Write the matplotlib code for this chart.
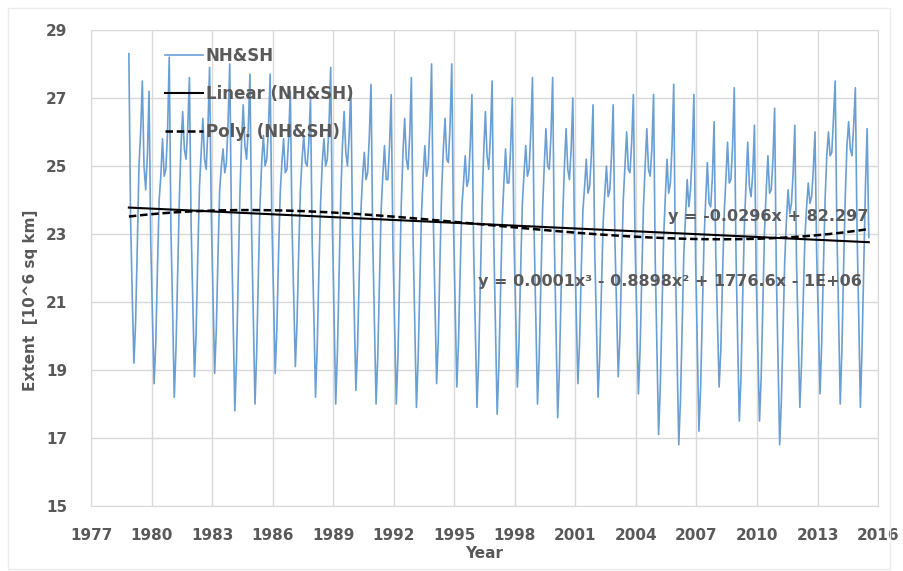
import matplotlib
matplotlib.use("Agg")
import matplotlib.pyplot as plt
from matplotlib.patches import Rectangle
import numpy as np

# global (NH + SH) sea ice extent, 10^6 sq km
# first two points are Nov/Dec 1978, then Jan..Dec per year, 2015 ends in July
start_1978 = [28.3, 23.5]
years = list(range(1979, 2016))
monthly = [
    [21.2, 19.2, 20.4, 22.6, 25.0, 26.0, 27.5, 25.0, 24.3, 25.3, 27.2, 22.8],  # 1979
    [20.6, 18.6, 19.8, 22.0, 24.0, 24.7, 25.8, 24.7, 24.9, 26.0, 28.2, 23.2],  # 1980
    [20.8, 18.2, 19.6, 21.8, 24.0, 25.6, 26.6, 25.5, 25.2, 26.1, 27.6, 23.3],  # 1981
    [21.1, 18.8, 20.1, 22.4, 24.4, 25.4, 26.4, 25.2, 24.9, 26.1, 27.9, 23.6],  # 1982
    [21.2, 18.9, 20.2, 22.4, 24.3, 25.0, 25.5, 24.8, 25.1, 26.3, 28.0, 23.2],  # 1983
    [20.5, 17.8, 19.3, 21.7, 24.1, 25.7, 26.8, 25.6, 25.2, 26.1, 27.7, 23.1],  # 1984
    [20.6, 18.0, 19.5, 21.8, 23.9, 25.1, 25.9, 25.0, 25.2, 26.1, 27.7, 23.5],  # 1985
    [21.2, 18.9, 20.2, 22.4, 24.2, 25.1, 25.8, 24.8, 24.9, 25.8, 27.2, 23.3],  # 1986
    [21.2, 19.1, 20.4, 22.5, 24.3, 25.2, 25.9, 25.1, 25.0, 25.7, 27.0, 22.8],  # 1987
    [20.6, 18.2, 19.7, 21.9, 23.9, 25.1, 25.8, 25.0, 25.2, 26.2, 27.9, 23.3],  # 1988
    [20.7, 18.0, 19.5, 21.8, 24.1, 25.6, 26.6, 25.4, 25.0, 25.9, 27.3, 23.1],  # 1989
    [20.7, 18.4, 19.7, 21.8, 23.7, 24.7, 25.4, 24.6, 24.8, 25.9, 27.4, 22.9],  # 1990
    [20.4, 18.0, 19.4, 21.6, 23.7, 24.7, 25.6, 24.6, 24.6, 25.6, 27.1, 22.7],  # 1991
    [20.3, 18.0, 19.4, 21.7, 23.9, 25.4, 26.4, 25.2, 24.9, 25.9, 27.6, 22.9],  # 1992
    [20.4, 17.9, 19.3, 21.5, 23.6, 24.7, 25.6, 24.7, 25.0, 26.2, 28.0, 23.5],  # 1993
    [21.0, 18.6, 19.9, 22.2, 24.3, 25.5, 26.4, 25.2, 25.1, 26.2, 28.0, 23.4],  # 1994
    [21.0, 18.5, 19.8, 21.9, 23.8, 24.5, 25.3, 24.4, 24.6, 25.6, 27.1, 22.6],  # 1995
    [20.2, 17.9, 19.3, 21.6, 23.8, 25.4, 26.6, 25.3, 24.9, 25.9, 27.5, 22.8],  # 1996
    [20.2, 17.7, 19.1, 21.3, 23.4, 24.5, 25.5, 24.5, 24.5, 25.5, 27.0, 22.9],  # 1997
    [20.7, 18.5, 19.8, 22.0, 23.9, 24.8, 25.6, 24.7, 24.9, 26.0, 27.6, 23.0],  # 1998
    [20.5, 18.0, 19.4, 21.6, 23.7, 25.0, 26.1, 25.0, 24.9, 25.9, 27.6, 22.8],  # 1999
    [20.2, 17.6, 19.0, 21.3, 23.5, 25.0, 26.1, 24.9, 24.6, 25.5, 27.0, 22.9],  # 2000
    [20.8, 18.6, 19.8, 21.9, 23.7, 24.4, 25.2, 24.2, 24.4, 25.3, 26.8, 22.6],  # 2001
    [20.4, 18.2, 19.4, 21.4, 23.3, 24.2, 25.0, 24.1, 24.3, 25.3, 26.8, 22.9],  # 2002
    [20.8, 18.8, 20.0, 22.1, 24.0, 25.0, 26.0, 24.9, 24.8, 25.7, 27.1, 22.8],  # 2003
    [20.6, 18.3, 19.6, 21.8, 23.8, 25.0, 26.1, 24.9, 24.7, 25.5, 27.1, 22.2],  # 2004
    [19.7, 17.1, 18.5, 20.7, 22.9, 24.1, 25.2, 24.2, 24.5, 25.6, 27.4, 22.2],  # 2005
    [19.4, 16.8, 18.1, 20.3, 22.4, 23.5, 24.6, 23.8, 24.3, 25.4, 27.1, 22.3],  # 2006
    [19.7, 17.2, 18.5, 20.7, 22.8, 24.0, 25.1, 23.9, 23.8, 24.7, 26.3, 22.4],  # 2007
    [20.4, 18.5, 19.6, 21.7, 23.6, 24.6, 25.7, 24.5, 24.6, 25.6, 27.3, 22.5],  # 2008
    [19.9, 17.5, 18.8, 21.1, 23.2, 24.5, 25.7, 24.4, 24.1, 24.8, 26.2, 21.9],  # 2009
    [19.6, 17.5, 18.8, 21.0, 23.1, 24.3, 25.3, 24.2, 24.3, 25.2, 26.7, 21.9],  # 2010
    [19.4, 16.8, 18.1, 20.2, 22.2, 23.4, 24.3, 23.6, 23.9, 24.8, 26.2, 22.2],  # 2011
    [20.0, 17.9, 19.2, 21.1, 22.9, 23.8, 24.5, 23.9, 24.1, 24.9, 26.0, 22.4],  # 2012
    [20.5, 18.3, 19.8, 22.0, 24.0, 25.3, 26.0, 25.3, 25.4, 26.4, 27.5, 23.2],  # 2013
    [20.7, 18.0, 19.6, 22.0, 24.1, 25.6, 26.3, 25.5, 25.3, 26.2, 27.3, 23.1],  # 2014
    [20.6, 17.9, 19.7, 22.1, 24.4, 26.1, 22.9],                                # 2015
]

x_ticks = list(range(1977, 2017, 3))
y_ticks = list(range(15, 30, 2))

# decimal year at mid-month
t = [1978 + 10.5 / 12, 1978 + 11.5 / 12]
ext = list(start_1978)
for yr, row in zip(years, monthly):
    for m, v in enumerate(row):
        t.append(yr + (m + 0.5) / 12)
        ext.append(v)
t = np.array(t)
ext = np.array(ext)

lin = np.polyfit(t - 2000, ext, 1)
cub = np.polyfit(t - 2000, ext, 3)
tt = np.linspace(t[0], t[-1], 300)

gray = '#595959'
plt.rcParams['font.family'] = 'DejaVu Sans'
plt.rcParams['font.weight'] = 'bold'

fig = plt.figure(figsize=(9.04, 5.71), dpi=100)
ax = fig.add_axes([0.1007, 0.1138, 0.8706, 0.8337])
fig.patches.append(Rectangle((0.009, 0.004), 0.976, 0.982, transform=fig.transFigure,
                             fill=False, edgecolor='#ececec', lw=1))

ax.plot(t, ext, color='#6a9fd4', lw=1.2, label='NH&SH')
ax.plot(tt, np.polyval(lin, tt - 2000), color='black', lw=1.5, label='Linear (NH&SH)')
ax.plot(tt, np.polyval(cub, tt - 2000), color='black', lw=1.8, ls=(0, (3, 1.5)),
        label='Poly. (NH&SH)')

ax.set_xlim(1977, 2016)
ax.set_ylim(15, 29)
ax.set_xticks(x_ticks)
ax.set_yticks(y_ticks)
ax.tick_params(length=0, labelsize=11, labelcolor=gray)
ax.tick_params(axis='x', pad=16)
ax.tick_params(axis='y', pad=17)
ax.grid(True, color='#d9d9d9', lw=1)
ax.set_axisbelow(True)
for s in ax.spines.values():
    s.set_color('#d9d9d9')

ax.set_xlabel('Year', fontsize=11, color=gray, fontweight='bold')
ax.set_ylabel('Extent  [10^6 sq km]', fontsize=11, color=gray, fontweight='bold')
ax.xaxis.set_label_coords(0.5, -0.084)
ax.yaxis.set_label_coords(-0.068, 0.433)

ax.text(2015.5, 23.5, 'y = -0.0296x + 82.297', fontsize=11.5, color=gray, ha='right', va='center')
ax.text(2015.2, 21.6, 'y = 0.0001x³ - 0.8898x² + 1776.6x - 1E+06', fontsize=11.5, color=gray,
        ha='right', va='center')

leg = ax.legend(loc='upper left', bbox_to_anchor=(0.094, 0.965), frameon=False, fontsize=12,
                borderpad=0, borderaxespad=0, handlelength=2.3, handletextpad=0.15,
                labelspacing=1.2)
for txt in leg.get_texts():
    txt.set_color(gray)

fig.savefig('out.png', dpi=100)
